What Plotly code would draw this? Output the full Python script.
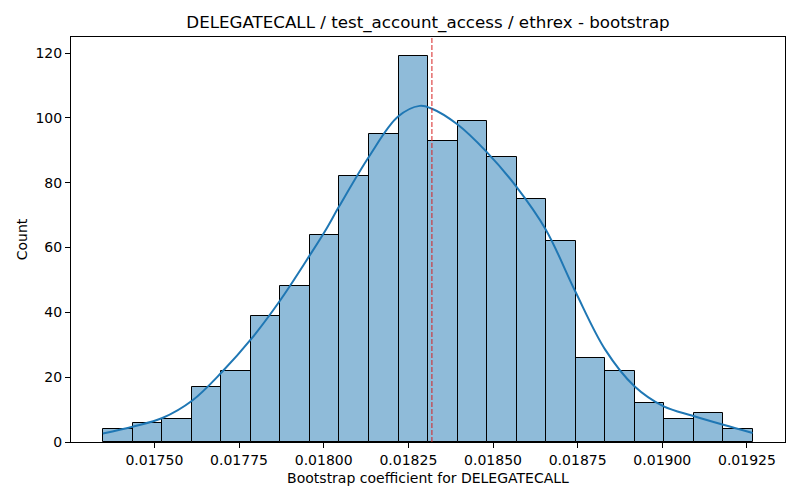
import plotly.graph_objects as go

# histogram of bootstrap coefficients (22 bins)
bin_start = 0.0173496
bin_width = 0.00008713
counts = [4, 6, 7, 17, 22, 39, 48, 64, 82, 95, 119, 93,
          99, 88, 75, 62, 26, 22, 12, 7, 9, 4]

# kde curve
kde_x = [0.0173478, 0.0174381, 0.0175236, 0.0176121, 0.0176988, 0.0177861,
         0.0178728, 0.0179601, 0.0180064, 0.0180456, 0.0181341, 0.0182196,
         0.0182836, 0.0183181, 0.0183936, 0.0184803, 0.0185688, 0.0186561,
         0.0187428, 0.0188313, 0.0189177, 0.0190041, 0.0190896, 0.0191802,
         0.0192666]
kde_y = [2.6, 4.8, 7.4, 12.8, 21.5, 31.8, 43.9, 57.8, 65.5, 72.7, 88.1, 100.4,
         103.7, 102.9, 98.1, 89.6, 78.8, 65.5, 46.5, 28.5, 17.2, 11.0, 8.1,
         5.3, 2.8]

point_estimate = 0.0183196

x_ticks = [0.0175, 0.01775, 0.018, 0.01825, 0.0185, 0.01875, 0.019, 0.01925]
y_ticks = [0, 20, 40, 60, 80, 100, 120]

centers = [bin_start + bin_width * (i + 0.5) for i in range(len(counts))]
x_lo = bin_start
x_hi = bin_start + bin_width * len(counts)
pad = (x_hi - x_lo) * 0.05

fig = go.Figure()
fig.add_trace(go.Bar(x=centers, y=counts, width=bin_width,
                     marker=dict(color='rgba(31,119,180,0.5)',
                                 line=dict(color='black', width=1)),
                     showlegend=False, hoverinfo='x+y'))
fig.add_trace(go.Scatter(x=kde_x, y=kde_y, mode='lines',
                         line=dict(color='#1f77b4', width=2, shape='spline'),
                         showlegend=False))

fig.add_shape(type='line', x0=point_estimate, x1=point_estimate,
              xref='x', yref='paper', y0=0, y1=1,
              line=dict(color='#d62020', width=1, dash='5px,2px'))

axis_style = dict(showline=True, mirror=True, linecolor='black', linewidth=1,
                  ticks='outside', ticklen=5, tickcolor='black',
                  showgrid=False, zeroline=False, automargin=False,
                  tickfont=dict(size=14, color='black'))

fig.update_layout(
    width=800, height=500,
    margin=dict(l=71, r=15, t=37, b=58),
    paper_bgcolor='white', plot_bgcolor='white',
    font=dict(family='DejaVu Sans', color='black'),
    title=dict(text='DELEGATECALL / test_account_access / ethrex - bootstrap',
               xref='paper', x=0.5, xanchor='center',
               y=0.955, yanchor='middle',
               font=dict(size=16.7, color='black')),
    bargap=0,
)
fig.update_xaxes(range=[x_lo - pad, x_hi + pad], tickvals=x_ticks,
                 tickformat='.5f',
                 title=dict(text='Bootstrap coefficient for DELEGATECALL',
                            font=dict(size=14), standoff=6),
                 **axis_style)
fig.update_yaxes(range=[0, max(counts) * 1.05], tickvals=y_ticks,
                 title=dict(text='Count', font=dict(size=14), standoff=4),
                 **axis_style)

# drop the default page margin so the figure sits at the window corner
fig.write_html('out.html', config={'displayModeBar': False},
               post_script="document.body.style.margin='0';")
